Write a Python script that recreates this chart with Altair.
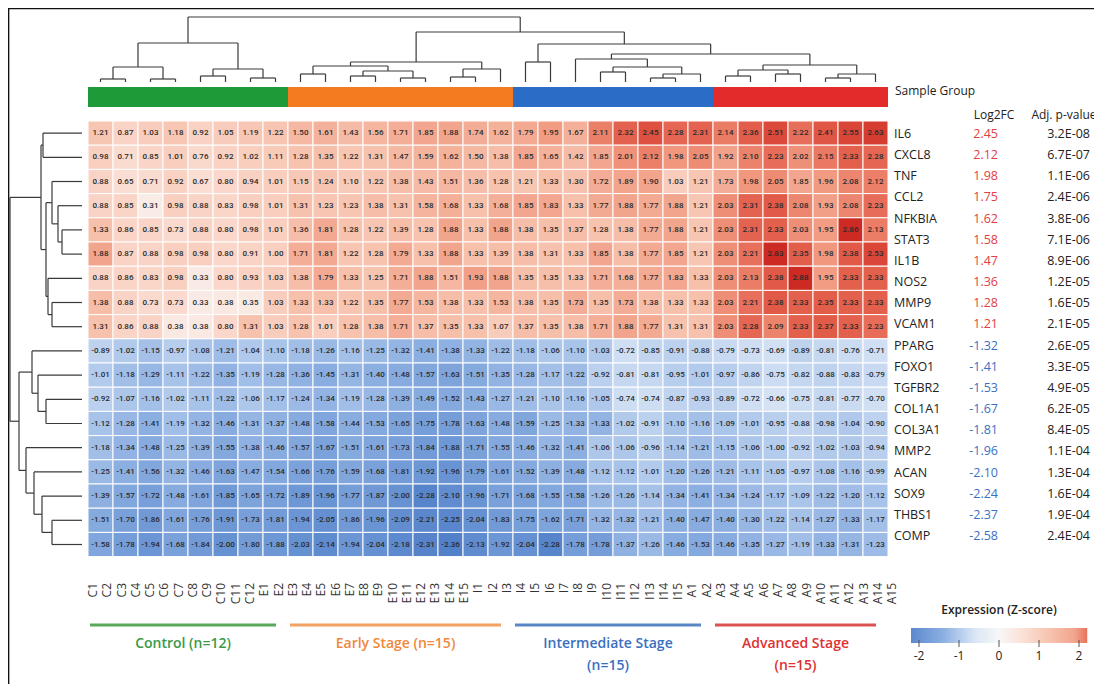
import altair as alt
import pandas as pd

# ------------------------------------------------------------------ data
# heat-map rows (z-scores printed in the cells), 32 columns each
hm_r01 = [1.21,0.87,1.03,1.18,0.92,1.05,1.19,1.22,1.50,1.61,1.43,1.56,1.71,1.85,1.88,1.74,1.62,1.79,1.95,1.67,2.11,2.32,2.45,2.28,2.31,2.14,2.36,2.51,2.22,2.41,2.55,2.63]
hm_r02 = [0.98,0.71,0.85,1.01,0.76,0.92,1.02,1.11,1.28,1.35,1.22,1.31,1.47,1.59,1.62,1.50,1.38,1.85,1.65,1.42,1.85,2.01,2.12,1.98,2.05,1.92,2.10,2.23,2.02,2.15,2.33,2.28]
hm_r03 = [0.88,0.65,0.71,0.92,0.67,0.80,0.94,1.01,1.15,1.24,1.10,1.22,1.38,1.43,1.51,1.36,1.28,1.21,1.33,1.30,1.72,1.89,1.90,1.03,1.21,1.73,1.98,2.05,1.85,1.96,2.08,2.12]
hm_r04 = [0.88,0.85,0.31,0.98,0.88,0.83,0.98,1.01,1.31,1.23,1.23,1.38,1.31,1.58,1.68,1.33,1.68,1.85,1.83,1.33,1.77,1.88,1.77,1.88,1.21,2.03,2.31,2.38,2.08,1.93,2.08,2.23]
hm_r05 = [1.33,0.86,0.85,0.73,0.88,0.80,0.98,1.01,1.36,1.81,1.28,1.22,1.39,1.28,1.88,1.33,1.88,1.38,1.35,1.37,1.28,1.38,1.77,1.88,1.21,2.03,2.31,2.33,2.03,1.95,2.86,2.13]
hm_r06 = [1.88,0.87,0.88,0.98,0.98,0.80,0.91,1.00,1.71,1.81,1.22,1.28,1.79,1.33,1.88,1.33,1.39,1.38,1.31,1.33,1.85,1.38,1.77,1.85,1.21,2.03,2.21,2.83,2.35,1.98,2.38,2.53]
hm_r07 = [0.88,0.86,0.83,0.98,0.33,0.80,0.93,1.03,1.38,1.79,1.33,1.25,1.71,1.88,1.51,1.93,1.88,1.35,1.35,1.33,1.71,1.68,1.77,1.83,1.33,2.03,2.13,2.38,2.88,1.95,2.33,2.33]
hm_r08 = [1.38,0.88,0.73,0.73,0.33,0.38,0.35,1.03,1.33,1.33,1.22,1.35,1.77,1.53,1.38,1.33,1.53,1.38,1.35,1.73,1.35,1.73,1.38,1.33,1.33,2.03,2.21,2.38,2.33,2.35,2.33,2.33]
hm_r09 = [1.31,0.86,0.88,0.38,0.38,0.80,1.31,1.03,1.28,1.01,1.28,1.38,1.71,1.37,1.35,1.33,1.07,1.37,1.35,1.38,1.71,1.88,1.77,1.31,1.31,2.03,2.28,2.09,2.33,2.37,2.33,2.23]
hm_r10 = [-0.89,-1.02,-1.15,-0.97,-1.08,-1.21,-1.04,-1.10,-1.18,-1.26,-1.16,-1.25,-1.32,-1.41,-1.38,-1.33,-1.22,-1.18,-1.06,-1.10,-1.03,-0.72,-0.85,-0.91,-0.88,-0.79,-0.73,-0.69,-0.89,-0.81,-0.76,-0.71]
hm_r11 = [-1.01,-1.18,-1.29,-1.11,-1.22,-1.35,-1.19,-1.28,-1.36,-1.45,-1.31,-1.40,-1.48,-1.57,-1.63,-1.51,-1.35,-1.28,-1.17,-1.22,-0.92,-0.81,-0.81,-0.95,-1.01,-0.97,-0.86,-0.75,-0.82,-0.88,-0.83,-0.79]
hm_r12 = [-0.92,-1.07,-1.16,-1.02,-1.11,-1.22,-1.06,-1.17,-1.24,-1.34,-1.19,-1.28,-1.39,-1.49,-1.52,-1.43,-1.27,-1.21,-1.10,-1.16,-1.05,-0.74,-0.74,-0.87,-0.93,-0.89,-0.72,-0.66,-0.75,-0.81,-0.77,-0.70]
hm_r13 = [-1.12,-1.28,-1.41,-1.19,-1.32,-1.46,-1.31,-1.37,-1.48,-1.58,-1.44,-1.53,-1.65,-1.75,-1.78,-1.63,-1.48,-1.59,-1.25,-1.33,-1.33,-1.02,-0.91,-1.10,-1.16,-1.09,-1.01,-0.95,-0.88,-0.98,-1.04,-0.90]
hm_r14 = [-1.18,-1.34,-1.48,-1.25,-1.39,-1.55,-1.38,-1.46,-1.57,-1.67,-1.51,-1.61,-1.73,-1.84,-1.88,-1.71,-1.55,-1.46,-1.32,-1.41,-1.06,-1.06,-0.96,-1.14,-1.21,-1.15,-1.06,-1.00,-0.92,-1.02,-1.03,-0.94]
hm_r15 = [-1.25,-1.41,-1.56,-1.32,-1.46,-1.63,-1.47,-1.54,-1.66,-1.76,-1.59,-1.68,-1.81,-1.92,-1.96,-1.79,-1.61,-1.52,-1.39,-1.48,-1.12,-1.12,-1.01,-1.20,-1.26,-1.21,-1.11,-1.05,-0.97,-1.08,-1.16,-0.99]
hm_r16 = [-1.39,-1.57,-1.72,-1.48,-1.61,-1.85,-1.65,-1.72,-1.89,-1.96,-1.77,-1.87,-2.00,-2.28,-2.10,-1.96,-1.71,-1.68,-1.55,-1.58,-1.26,-1.26,-1.14,-1.34,-1.41,-1.34,-1.24,-1.17,-1.09,-1.22,-1.20,-1.12]
hm_r17 = [-1.51,-1.70,-1.86,-1.61,-1.76,-1.91,-1.73,-1.81,-1.94,-2.05,-1.86,-1.96,-2.09,-2.21,-2.25,-2.04,-1.83,-1.75,-1.62,-1.71,-1.32,-1.32,-1.21,-1.40,-1.47,-1.40,-1.30,-1.22,-1.14,-1.27,-1.33,-1.17]
hm_r18 = [-1.58,-1.78,-1.94,-1.68,-1.84,-2.00,-1.80,-1.88,-2.03,-2.14,-1.94,-2.04,-2.18,-2.31,-2.36,-2.13,-1.92,-2.04,-2.28,-1.78,-1.78,-1.37,-1.26,-1.46,-1.53,-1.46,-1.35,-1.27,-1.19,-1.33,-1.31,-1.23]
heat_rows = [hm_r01, hm_r02, hm_r03, hm_r04, hm_r05, hm_r06, hm_r07, hm_r08, hm_r09,
             hm_r10, hm_r11, hm_r12, hm_r13, hm_r14, hm_r15, hm_r16, hm_r17, hm_r18]

genes = ["IL6", "CXCL8", "TNF", "CCL2", "NFKBIA", "STAT3", "IL1B", "NOS2", "MMP9", "VCAM1",
         "PPARG", "FOXO1", "TGFBR2", "COL1A1", "COL3A1", "MMP2", "ACAN", "SOX9", "THBS1", "COMP"]
log2fc = [2.45, 2.12, 1.98, 1.75, 1.62, 1.58, 1.47, 1.36, 1.28, 1.21,
          -1.32, -1.41, -1.53, -1.67, -1.81, -1.96, -2.10, -2.24, -2.37, -2.58]
padj = ["3.2E-08", "6.7E-07", "1.1E-06", "2.4E-06", "3.8E-06", "7.1E-06", "8.9E-06", "1.2E-05", "1.6E-05", "2.1E-05",
        "2.6E-05", "3.3E-05", "4.9E-05", "6.2E-05", "8.4E-05", "1.1E-04", "1.3E-04", "1.6E-04", "1.9E-04", "2.4E-04"]

sample_names = (["C%d" % i for i in range(1, 13)] + ["E%d" % i for i in range(1, 16)]
                + ["I%d" % i for i in range(1, 16)] + ["A%d" % i for i in range(1, 16)])
group_names = ["Control (n=12)", "Early Stage (n=15)", "Intermediate Stage\n(n=15)", "Advanced Stage\n(n=15)"]
group_cols = [8, 9, 8, 7]          # heat-map columns belonging to each group
legend_ticks = [-2, -1, 0, 1, 2]

# dendrograms: (child a, child b, merge height); new node ids follow the leaves
top_links = [(0, 1, 3), (2, 3, 3), (32, 33, 15), (4, 5, 6), (6, 7, 4), (35, 36, 13), (34, 37, 39),
             (8, 9, 8), (10, 11, 6), (12, 13, 4), (40, 41, 11), (39, 42, 16), (14, 15, 5), (44, 16, 13),
             (43, 45, 20), (17, 18, 20), (20, 21, 10), (22, 23, 4), (49, 24, 8), (48, 50, 15),
             (19, 51, 23), (25, 26, 6), (27, 28, 8), (53, 54, 12), (29, 30, 4), (56, 31, 8),
             (55, 57, 17), (52, 58, 28), (47, 59, 38), (46, 60, 50), (38, 61, 65)]
left_links = [(4, 5, 20), (3, 18, 24), (2, 19, 30), (7, 8, 30), (6, 21, 34), (20, 22, 36), (0, 1, 39),
              (24, 23, 41), (11, 12, 36), (10, 26, 44), (9, 27, 50), (16, 17, 30), (15, 29, 40),
              (14, 30, 48), (13, 31, 56), (28, 32, 63), (25, 33, 72)]

# ------------------------------------------------------------------ style
bar_colors = ["#1f9a38", "#f47b20", "#2b6cc7", "#e32b2b"]
line_colors = ["#5aa85a", "#f3a261", "#5b86c6", "#d9544f"]
text_colors = ["#3a9a46", "#f0873a", "#3a6fc0", "#e0302f"]
color_stops = [-2.8, -2.0, -1.4, -1.0, -0.6, 0, 0.6, 1.2, 1.9, 2.2, 2.5, 2.8]
color_range = ["#3a6cbe", "#6792d2", "#8cafe1", "#b3cbec", "#dbe6f5", "#f7f7f7",
               "#fbe0d6", "#f7c6b3", "#f2a48c", "#e8705c", "#dc4a3b", "#cc2a22"]
FONT = "Open Sans"

# ------------------------------------------------------------------ layout
W, H = 1086, 676                  # whole drawing area (page offset 8 px)
CELL_X0, CELL_W = 88, 25          # heat-map left edge and column width (page px)
ROW_Y0, ROW_H = 121, 24.2         # heat-map top edge and row height (page px)


def cx(px):
    return (px - CELL_X0) / CELL_W


def ry(py):
    return (py - ROW_Y0) / ROW_H


xs = alt.Scale(domain=[cx(8), cx(8 + W)], nice=False, zero=False)
ys = alt.Scale(domain=[ry(8), ry(8 + H)], nice=False, zero=False, reverse=True)
cscale = alt.Scale(domain=color_stops, range=color_range, clamp=True)


def X(f):
    return alt.X(f, type="quantitative", scale=xs, axis=None)


def Y(f):
    return alt.Y(f, type="quantitative", scale=ys, axis=None)


layers = []

# heat map
recs = []
for r, row in enumerate(heat_rows):
    for c, v in enumerate(row):
        recs.append(dict(c0=c, c1=c + 1, r0=r, r1=r + 1, xc=c + 0.5, yc=r + 0.5, v=v, txt="%.2f" % v))
df_hm = pd.DataFrame(recs)
layers.append(alt.Chart(df_hm).mark_rect(stroke="white", strokeWidth=1).encode(
    x=X("c0"), x2="c1", y=Y("r0"), y2="r1",
    color=alt.Color("v:Q", scale=cscale, legend=None)))
layers.append(alt.Chart(df_hm).mark_text(font="Roboto", fontSize=8, fontWeight=500, color="#2a2a2a").encode(
    x=X("xc"), y=Y("yc"), text="txt:N"))


# dendrograms
def dendro(links, n_leaves):
    pos = {i: (i + 0.5, 0.0) for i in range(n_leaves)}
    segs = []
    for k, (a, b, h) in enumerate(links):
        pa, ha = pos[a]
        pb, hb = pos[b]
        segs += [(pa, ha, pa, h), (pb, hb, pb, h), (pa, h, pb, h)]
        pos[n_leaves + k] = ((pa + pb) / 2.0, h)
    return segs


TOP_BASE = 82   # page y where top-dendrogram leaves end
LEFT_BASE = 82  # page x where left-dendrogram leaves end
top_segs = [dict(x=p1, y=ry(TOP_BASE - h1), x2=p2, y2=ry(TOP_BASE - h2))
            for p1, h1, p2, h2 in dendro(top_links, 32)]
left_segs = [dict(x=cx(LEFT_BASE - h1), y=p1, x2=cx(LEFT_BASE - h2), y2=p2)
             for p1, h1, p2, h2 in dendro(left_links, 18)]
for segs in (top_segs, left_segs):
    layers.append(alt.Chart(pd.DataFrame(segs)).mark_rule(color="#3a3a3a", strokeWidth=1.2).encode(
        x=X("x"), y=Y("y"), x2="x2", y2="y2"))

# group bar, group lines and group names
edges = [0]
for n in group_cols:
    edges.append(edges[-1] + n)
df_grp = pd.DataFrame(dict(
    c0=edges[:-1], c1=edges[1:],
    l0=[cx(CELL_X0 + CELL_W * e + 2) for e in edges[:-1]],
    l1=[cx(CELL_X0 + CELL_W * e - 12) for e in edges[1:]],
    bar=bar_colors, line=line_colors, tcol=text_colors, name=group_names))
df_grp["lm"] = (df_grp["l0"] + df_grp["l1"]) / 2
df_grp["by0"] = ry(87)
df_grp["by1"] = ry(107)
df_grp["ly"] = ry(625)
df_grp["ty"] = ry(637)
layers.append(alt.Chart(df_grp).mark_rect().encode(
    x=X("c0"), x2="c1", y=Y("by0"), y2="by1", fill=alt.Fill("bar:N", scale=None)))
layers.append(alt.Chart(df_grp).mark_rule(strokeWidth=3).encode(
    x=X("l0"), x2="l1", y=Y("ly"), stroke=alt.Stroke("line:N", scale=None)))
layers.append(alt.Chart(df_grp).mark_text(font=FONT, fontSize=14, fontWeight=600, baseline="top",
                                          align="center", lineBreak="\n", lineHeight=22).encode(
    x=X("lm"), y=Y("ty"), text="name:N", fill=alt.Fill("tcol:N", scale=None)))

# sample tick labels under the heat map
df_s = pd.DataFrame(dict(name=sample_names,
                         x=[cx(93 + 14.27 * i) for i in range(len(sample_names))],
                         y=ry(583)))
layers.append(alt.Chart(df_s).mark_text(font=FONT, fontSize=12, angle=270, align="right",
                                        baseline="middle", color="#333333").encode(
    x=X("x"), y=Y("y"), text="name:N"))

# gene table on the right
gy = [ry(134 + i * (536 - 134) / 19.0) for i in range(len(genes))]
df_g = pd.DataFrame(dict(gene=genes, fc=["%.2f" % v for v in log2fc], p=padj, y=gy,
                         fcol=["#e3403f" if v > 0 else "#3b6fc4" for v in log2fc]))
df_g["xg"] = cx(894)
df_g["xf"] = cx(998)
df_g["xp"] = cx(1090)
layers.append(alt.Chart(df_g).mark_text(font=FONT, fontSize=12.5, align="left", baseline="middle",
                                        color="#222222").encode(x=X("xg"), y=Y("y"), text="gene:N"))
layers.append(alt.Chart(df_g).mark_text(font=FONT, fontSize=12.5, align="right", baseline="middle").encode(
    x=X("xf"), y=Y("y"), text="fc:N", fill=alt.Fill("fcol:N", scale=None)))
layers.append(alt.Chart(df_g).mark_text(font=FONT, fontSize=12.5, align="right", baseline="middle",
                                        color="#222222").encode(x=X("xp"), y=Y("y"), text="p:N"))

df_head = pd.DataFrame(dict(t=["Sample Group", "Log2FC", "Adj. p-value"],
                            x=[cx(895), cx(994), cx(1064)],
                            y=[ry(91), ry(115), ry(115)],
                            a=["left", "center", "center"]))
for _, rw in df_head.iterrows():
    layers.append(alt.Chart(pd.DataFrame([rw])).mark_text(
        font=FONT, fontSize=12, align=rw["a"], baseline="middle", color="#222222").encode(
        x=X("x"), y=Y("y"), text="t:N"))

# colour legend (gradient strip drawn through the same colour scale)
LG_X0, LG_PX = 999, 40            # page x of value 0, px per unit
LG_Y0, LG_Y1 = 628, 643
steps = [-2.2 + 0.05 * k for k in range(88)]
df_lg = pd.DataFrame(dict(v=[s + 0.025 for s in steps],
                          x0=[cx(LG_X0 + LG_PX * s) for s in steps],
                          x1=[cx(LG_X0 + LG_PX * (s + 0.05)) + 0.01 for s in steps]))
df_lg["y0"] = ry(LG_Y0)
df_lg["y1"] = ry(LG_Y1)
layers.append(alt.Chart(df_lg).mark_rect().encode(
    x=X("x0"), x2="x1", y=Y("y0"), y2="y1", color=alt.Color("v:Q", scale=cscale, legend=None)))
df_lt = pd.DataFrame(dict(t=[str(v) for v in legend_ticks],
                          x=[cx(LG_X0 + LG_PX * v) for v in legend_ticks]))
df_lt["ty0"] = ry(LG_Y1 - 3)
df_lt["ty1"] = ry(LG_Y1 + 4)
df_lt["ly"] = ry(656)
layers.append(alt.Chart(df_lt).mark_rule(color="#555555", strokeWidth=1).encode(
    x=X("x"), y=Y("ty0"), y2="ty1"))
layers.append(alt.Chart(df_lt).mark_text(font=FONT, fontSize=12, baseline="middle", color="#222222").encode(
    x=X("x"), y=Y("ly"), text="t:N"))
layers.append(alt.Chart(pd.DataFrame(dict(t=["Expression (Z-score)"], x=[cx(LG_X0)], y=[ry(610)]))).mark_text(
    font=FONT, fontSize=12, fontWeight=600, baseline="middle", color="#222222").encode(
    x=X("x"), y=Y("y"), text="t:N"))

# frame (top and left edges)
df_fr = pd.DataFrame(dict(x=[cx(8), cx(8.6)], x2=[cx(8 + W), cx(8.6)],
                          y=[ry(8.6), ry(8)], y2=[ry(8.6), ry(8 + H)]))
layers.append(alt.Chart(df_fr).mark_rule(color="#111111", strokeWidth=1.5).encode(
    x=X("x"), x2="x2", y=Y("y"), y2="y2"))

chart = alt.layer(*layers).properties(
    width=W, height=H, padding=0, autosize=alt.AutoSizeParams(type="none"),
    background="white"
).configure_view(stroke=None)

chart.save("out.html", embed_options={"renderer": "svg", "actions": False})
